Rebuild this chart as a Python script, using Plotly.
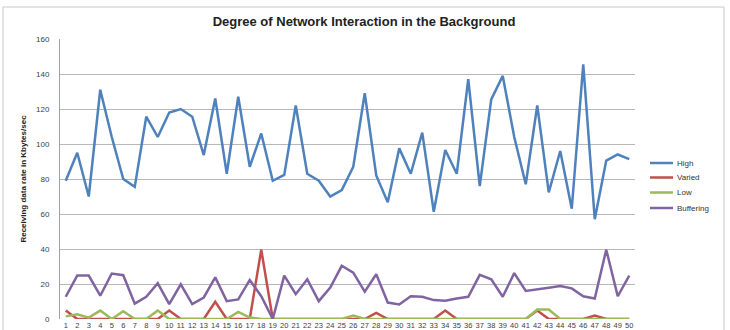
import plotly.graph_objects as go

x_labels = [str(i) for i in range(1, 51)]

high = [79, 95, 70, 131, 104, 80, 75.5, 115.6, 104, 118,
        120, 115.6, 93.7, 126, 83, 127, 87, 106, 79, 82.3,
        122, 83, 79, 70, 73.7, 87, 129, 82, 66.7, 97.5,
        83, 106.5, 61.3, 96.6, 83, 137, 76, 125.5, 138.9, 104,
        77, 122, 72.4, 96, 63, 145.5, 57, 90.5, 94, 91.4]

varied = [4.8, 0, 0, 0, 0, 0, 0, 0, 0, 4.8,
          0, 0, 0, 9.8, 0, 0, 0, 39.6, 0, 0,
          0, 0, 0, 0, 0, 0, 0, 3.5, 0, 0,
          0, 0, 0, 4.8, 0, 0, 0, 0, 0, 0,
          0, 4.8, 0, 0, 0, 0, 2, 0, 0, 0]

low = [1.5, 2.7, 0.8, 4.8, 0, 4.4, 0, 0, 4.8, 0,
       0, 0, 0, 0, 0, 4, 0.8, 0, 0, 0,
       0, 0, 0, 0, 0, 2, 0, 0, 0, 0,
       0, 0, 0, 0, 0, 0, 0, 0, 0, 0,
       0, 5.4, 5.4, 0, 0, 0, 0, 0, 0, 0]

buffering = [12.7, 24.8, 24.8, 13.3, 26, 25, 8.8, 12.7, 20.4, 8.5,
             19.8, 8.5, 12.3, 23.8, 10.2, 11.2, 22.3, 13, 0, 24.8,
             14.2, 22.7, 10.2, 18, 30.4, 26.5, 15.6, 25.6, 9.4, 8.3,
             13, 12.7, 10.8, 10.4, 11.7, 12.7, 25.2, 22.7, 12.7, 26.2,
             16, 17.1, 17.9, 18.8, 17.5, 13, 11.7, 39.6, 13, 24.8]

series_names = ["High", "Varied", "Low", "Buffering"]
series_values = [high, varied, low, buffering]
series_colors = ["#4F81BD", "#C0504D", "#9BBB59", "#8064A2"]

xs = list(range(1, 51))
fig = go.Figure()
for name, vals, col in zip(series_names, series_values, series_colors):
    fig.add_trace(go.Scatter(x=xs, y=vals, name=name, mode="lines",
                             line=dict(color=col, width=2.5)))

W, H = 730, 330
L, R, T, B = 60, 95, 39, 11
PW, PH = W - L - R, H - T - B


def px(x):
    return (x - L) / PW


def py(y):
    return (H - B - y) / PH


FONT = "Liberation Sans, Arial, sans-serif"
fig.update_layout(
    width=W, height=H,
    margin=dict(l=L, r=R, t=T, b=B),
    paper_bgcolor="white", plot_bgcolor="white",
    font=dict(family=FONT, size=8, color="#404040"),
    title=dict(text="<b>Degree of Network Interaction in the Background</b>",
               x=364 / W, xanchor="center", y=1 - 21 / H, yanchor="middle",
               font=dict(family=FONT, size=13, color="#222")),
    showlegend=False,
    xaxis=dict(range=[0.5, 50.5], tickmode="array", tickvals=xs, ticktext=x_labels,
               showgrid=False, zeroline=False, showline=False, ticks="",
               automargin=False, ticklabelstandoff=0,
               tickfont=dict(size=7.5, color="#404040"), tickangle=0),
    yaxis=dict(range=[0, 160], dtick=20, showgrid=True, gridcolor="#b8b8b8", gridwidth=1,
               zeroline=False, showline=True, linecolor="#a0a0a0", linewidth=1,
               ticks="", automargin=False, ticklabelstandoff=8,
               tickfont=dict(size=8, color="#404040"),
               title=dict(text="<b>Receiving data rate in Kbytes/sec</b>",
                          font=dict(size=8, color="#222"), standoff=8)),
)

# chart frame
fig.add_shape(type="rect", xref="paper", yref="paper",
              x0=px(3), x1=px(724), y0=py(340), y1=py(7),
              line=dict(color="#c8c8c8", width=1), layer="below")

# legend
leg_y = [163, 177.5, 192.5, 208]
for name, col, ly in zip(series_names, series_colors, leg_y):
    fig.add_shape(type="line", xref="paper", yref="paper",
                  x0=px(650), x1=px(673), y0=py(ly), y1=py(ly),
                  line=dict(color=col, width=2.5))
    fig.add_annotation(text=name, xref="paper", yref="paper",
                       x=px(675), y=py(ly), xanchor="left", yanchor="middle",
                       showarrow=False, font=dict(family=FONT, size=8, color="#333"))

fig.write_html("out.html")
